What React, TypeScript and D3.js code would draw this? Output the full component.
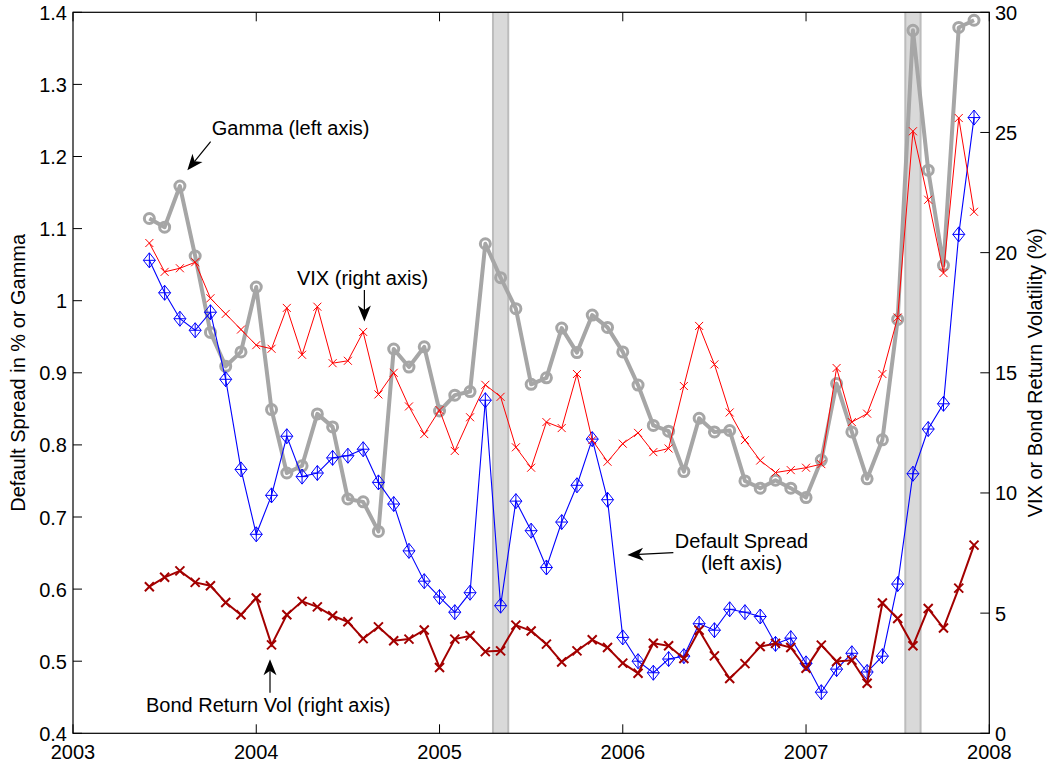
import React from "react";
import * as d3 from "d3";

// Monthly observations, June 2003 .. December 2007
const startYear = 2003;
const startMonth = 6;

const gamma = [
  1.114, 1.102, 1.159, 1.062, 0.956, 0.909, 0.929, 1.019, 0.849, 0.761,
  0.771, 0.843, 0.825, 0.725, 0.721, 0.680, 0.933, 0.908, 0.936, 0.847,
  0.869, 0.874, 1.079, 1.032, 0.989, 0.884, 0.893, 0.962, 0.928, 0.980,
  0.963, 0.929, 0.883, 0.827, 0.819, 0.763, 0.837, 0.818, 0.820, 0.750,
  0.740, 0.751, 0.740, 0.727, 0.779, 0.885, 0.818, 0.753, 0.807, 0.974,
  1.375, 1.181, 1.049, 1.379, 1.389,
];

const defaultSpread = [
  1.056, 1.011, 0.975, 0.959, 0.984, 0.891, 0.766, 0.676, 0.730, 0.812,
  0.756, 0.761, 0.782, 0.785, 0.794, 0.748, 0.718, 0.653, 0.611, 0.589,
  0.568, 0.595, 0.862, 0.577, 0.722, 0.681, 0.630, 0.693, 0.744, 0.808,
  0.724, 0.533, 0.500, 0.484, 0.503, 0.507, 0.552, 0.543, 0.572, 0.568,
  0.562, 0.524, 0.532, 0.497, 0.457, 0.489, 0.511, 0.485, 0.507, 0.607,
  0.760, 0.822, 0.857, 1.092, 1.254,
];

const vix = [
  20.4, 19.2, 19.35, 19.6, 18.1, 17.45, 16.8, 16.15, 16.0, 17.7,
  15.75, 17.75, 15.4, 15.5, 16.7, 14.1, 15.0, 13.6, 12.45, 13.45,
  11.75, 13.15, 14.5, 14.0, 11.9, 11.05, 12.95, 12.7, 14.95, 12.2,
  11.3, 12.05, 12.5, 11.7, 11.85, 14.45, 16.95, 15.35, 13.35, 12.2,
  11.35, 10.85, 10.95, 11.05, 11.2, 15.2, 12.95, 13.3, 14.95, 17.3,
  25.05, 22.2, 19.15, 25.6, 21.7,
];

const bondVol = [
  6.10, 6.49, 6.76, 6.28, 6.14, 5.44, 4.93, 5.63, 3.68, 4.93,
  5.49, 5.26, 4.89, 4.64, 3.94, 4.43, 3.85, 3.92, 4.30, 2.74,
  3.92, 4.06, 3.40, 3.43, 4.50, 4.26, 3.71, 2.97, 3.43, 3.89,
  3.57, 2.92, 2.50, 3.75, 3.64, 3.11, 4.29, 3.22, 2.28, 2.90,
  3.61, 3.74, 3.57, 2.71, 3.67, 2.99, 3.04, 2.08, 5.42, 4.78,
  3.64, 5.19, 4.38, 6.04, 7.83,
];

const xTicks = [2003, 2004, 2005, 2006, 2007, 2008];
const leftTicks = [0.4, 0.5, 0.6, 0.7, 0.8, 0.9, 1.0, 1.1, 1.2, 1.3, 1.4];
const rightTicks = [0, 5, 10, 15, 20, 25, 30];
// shaded months (year, month)
const bands = [
  { year: 2005, month: 5 },
  { year: 2007, month: 8 },
];

const dates = gamma.map((_, i) => startYear + (startMonth - 1 + i) / 12);

const W = 1047;
const H = 766;
const FONT = "'Liberation Sans', Arial, Helvetica, sans-serif";
const FS = 20;

const GRAY = "#a6a6a6";
const BLUE = "#0000ff";
const RED = "#ff0000";
const DARKRED = "#a30000";

function Arrow({ x1, y1, x2, y2 }: { x1: number; y1: number; x2: number; y2: number }) {
  const dx = x2 - x1;
  const dy = y2 - y1;
  const len = Math.hypot(dx, dy);
  const ux = dx / len;
  const uy = dy / len;
  const nx = -uy;
  const ny = ux;
  const L = 16;
  const Wd = 6.5;
  const bx = x2 - L * ux;
  const by = y2 - L * uy;
  const mx = x2 - 0.72 * L * ux;
  const my = y2 - 0.72 * L * uy;
  const pts = [
    [x2, y2],
    [bx + Wd * nx, by + Wd * ny],
    [mx, my],
    [bx - Wd * nx, by - Wd * ny],
  ];
  return (
    <g>
      <line x1={x1} y1={y1} x2={mx} y2={my} stroke="#000" strokeWidth={1.2} />
      <polygon points={pts.map((p) => p.join(",")).join(" ")} fill="#000" />
    </g>
  );
}

export default function App() {
  const x = d3.scaleLinear().domain([2003, 2008]).range([73, 989.3]);
  const yL = d3.scaleLinear().domain([0.4, 1.4]).range([733.3, 12.3]);
  const yR = d3.scaleLinear().domain([0, 30]).range([733.3, 12.3]);

  const [x0, x1] = x.range();
  const [yb, yt] = yL.range();

  const lineL = d3
    .line<number>()
    .x((_, i) => x(dates[i]))
    .y((d) => yL(d));
  const lineR = d3
    .line<number>()
    .x((_, i) => x(dates[i]))
    .y((d) => yR(d));

  const tickLen = 9;
  const fmtL = (v: number) => String(+v.toFixed(1));

  const xMark = (s: number) => `M${-s},${-s}L${s},${s}M${-s},${s}L${s},${-s}`;
  const diamond = "M0,-7.5L6,0L0,7.5L-6,0Z M-6,0H6 M0,-7.5V7.5";

  // annotation anchors in data coordinates
  const gA = { tx: 2003.757, ty: 1.23, ax: 2003.751, ay: 1.2205, bx: 2003.624, by: 1.181 };
  const vA = { tx: 2004.222, ty: 18.65, ax: 2004.59, ay: 18.45, by: 17.13 };
  const dA = { tx: 2006.648, ty1: 0.657, ty2: 0.6265, ax: 2006.276, ay: 0.6505, bx: 2006.025, by: 0.6473 };
  const bA = { tx: 2003.398, ty: 0.9, ax: 2004.075, ay: 1.69, by: 3.08 };

  return (
    <svg
      width={W}
      height={H}
      style={{ position: "absolute", left: 0, top: 0, background: "#fff" }}
      fontFamily={FONT}
      fontSize={FS}
    >
      <rect x={0} y={0} width={W} height={H} fill="#fff" />

      {/* shaded bands */}
      {bands.map((b, i) => {
        const c = b.year + (b.month - 1) / 12;
        const xa = x(c - 1 / 24);
        const xb = x(c + 1 / 24);
        return (
          <g key={i}>
            <rect x={xa} y={yt} width={xb - xa} height={yb - yt} fill="#d9d9d9" />
            <line x1={xa} x2={xa} y1={yt} y2={yb} stroke="#bcbcbc" strokeWidth={2} />
            <line x1={xb} x2={xb} y1={yt} y2={yb} stroke="#bcbcbc" strokeWidth={2} />
          </g>
        );
      })}

      {/* Gamma */}
      <path d={lineL(gamma) || ""} fill="none" stroke={GRAY} strokeWidth={4} strokeLinejoin="round" />
      {gamma.map((v, i) => (
        <circle key={"g" + i} cx={x(dates[i])} cy={yL(v)} r={5} fill="none" stroke={GRAY} strokeWidth={3} />
      ))}

      {/* Default spread */}
      <path d={lineL(defaultSpread) || ""} fill="none" stroke={BLUE} strokeWidth={1.1} />
      {defaultSpread.map((v, i) => (
        <path
          key={"d" + i}
          d={diamond}
          transform={`translate(${x(dates[i])},${yL(v)})`}
          fill="none"
          stroke={BLUE}
          strokeWidth={1}
        />
      ))}

      {/* VIX */}
      <path d={lineR(vix) || ""} fill="none" stroke={RED} strokeWidth={1} />
      {vix.map((v, i) => (
        <path key={"v" + i} d={xMark(4)} transform={`translate(${x(dates[i])},${yR(v)})`} stroke={RED} strokeWidth={1} />
      ))}

      {/* Bond return vol */}
      <path d={lineR(bondVol) || ""} fill="none" stroke={DARKRED} strokeWidth={2} />
      {bondVol.map((v, i) => (
        <path key={"b" + i} d={xMark(4.5)} transform={`translate(${x(dates[i])},${yR(v)})`} stroke={DARKRED} strokeWidth={2} />
      ))}

      {/* axes box */}
      <rect x={x0} y={yt} width={x1 - x0} height={yb - yt} fill="none" stroke="#000" strokeWidth={1.2} />

      {/* x ticks */}
      {xTicks.map((t) => (
        <g key={"xt" + t}>
          <line x1={x(t)} x2={x(t)} y1={yb} y2={yb - tickLen} stroke="#000" strokeWidth={1} />
          <line x1={x(t)} x2={x(t)} y1={yt} y2={yt + tickLen} stroke="#000" strokeWidth={1} />
          <text x={x(t)} y={yb + 26} textAnchor="middle">
            {t}
          </text>
        </g>
      ))}

      {/* left ticks */}
      {leftTicks.map((t) => (
        <g key={"lt" + t}>
          <line x1={x0} x2={x0 + tickLen} y1={yL(t)} y2={yL(t)} stroke="#000" strokeWidth={1} />
          <text x={67} y={yL(t) + 7.5} textAnchor="end">
            {fmtL(t)}
          </text>
        </g>
      ))}

      {/* right ticks */}
      {rightTicks.map((t) => (
        <g key={"rt" + t}>
          <line x1={x1} x2={x1 - tickLen} y1={yR(t)} y2={yR(t)} stroke="#000" strokeWidth={1} />
          <text x={995} y={yR(t) + 7.5} textAnchor="start">
            {t}
          </text>
        </g>
      ))}

      {/* axis labels */}
      <text transform={`translate(25,${(yt + yb) / 2}) rotate(-90)`} textAnchor="middle">
        Default Spread in % or Gamma
      </text>
      <text transform={`translate(1042,${(yt + yb) / 2}) rotate(-90)`} textAnchor="middle">
        VIX or Bond Return Volatility (%)
      </text>

      {/* annotations */}
      <text x={x(gA.tx)} y={yL(gA.ty)}>Gamma (left axis)</text>
      <Arrow x1={x(gA.ax)} y1={yL(gA.ay)} x2={x(gA.bx)} y2={yL(gA.by)} />

      <text x={x(vA.tx)} y={yR(vA.ty)}>VIX (right axis)</text>
      <Arrow x1={x(vA.ax)} y1={yR(vA.ay)} x2={x(vA.ax)} y2={yR(vA.by)} />

      <text x={x(dA.tx)} y={yL(dA.ty1)} textAnchor="middle">
        Default Spread
      </text>
      <text x={x(dA.tx)} y={yL(dA.ty2)} textAnchor="middle">
        (left axis)
      </text>
      <Arrow x1={x(dA.ax)} y1={yL(dA.ay)} x2={x(dA.bx)} y2={yL(dA.by)} />

      <text x={x(bA.tx)} y={yR(bA.ty)}>Bond Return Vol (right axis)</text>
      <Arrow x1={x(bA.ax)} y1={yR(bA.ay)} x2={x(bA.ax)} y2={yR(bA.by)} />
    </svg>
  );
}
